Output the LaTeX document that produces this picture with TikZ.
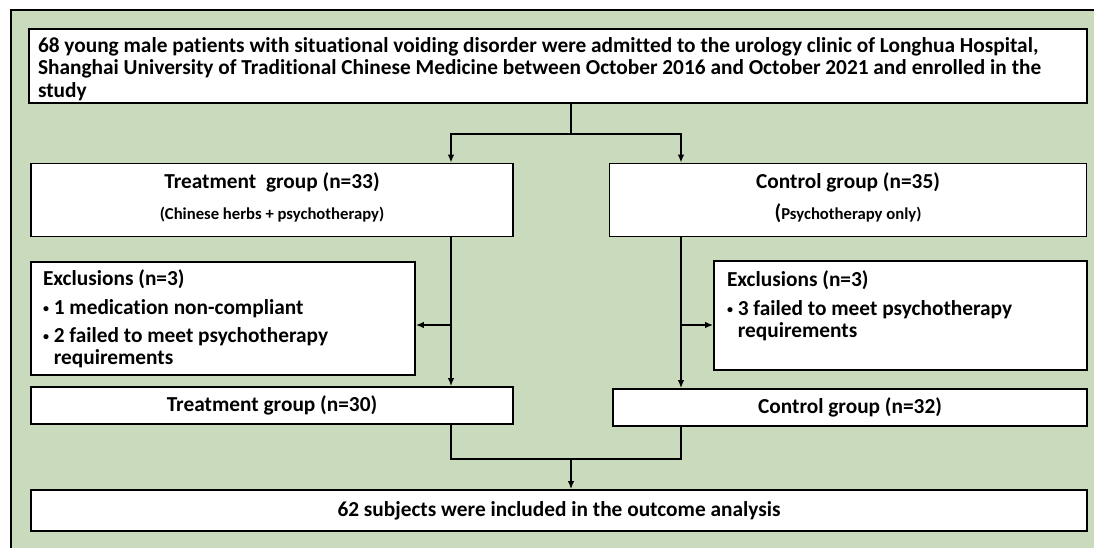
\documentclass[tikz,border=0pt]{standalone}
\usepackage{fontspec}
\setmainfont{Carlito}[Ligatures=CommonOff]
\usetikzlibrary{arrows.meta}
\definecolor{sage}{RGB}{201,218,189}
\tikzset{every picture/.style={line width=0.75pt}}
\tikzset{
  box/.style={draw=black, fill=white, line width=1.4pt, inner sep=0pt, font=\bfseries\fontsize{16}{16.5}\selectfont},
  flow/.style={line width=1.1pt, -{Latex[length=6pt,width=5pt]}},
  joint/.style={line width=1.1pt}
}
\newcommand{\bul}{\raisebox{1.5pt}{\fontsize{9}{9}\selectfont\textbullet}\ }

\begin{document}
\begin{tikzpicture}[x=0.75pt,y=0.75pt,yscale=-1,xscale=1]
	\useasboundingbox (0,0) rectangle (1094,547);

	%Shape: Frame
	\fill[sage] (11,10) rectangle (1100,553);
	\draw[line width=1.4pt] (11,553) -- (11,10) -- (1100,10);

	% Enrolment
	\node[box, minimum width=1058*0.75pt, minimum height=74*0.75pt, text width=1040*0.75pt, align=flush left] (enrol) at (558,66) {\rule{0pt}{16pt}68 young male patients with situational voiding disorder were admitted to the urology clinic of Longhua Hospital,\\[0.5pt] Shanghai University of Traditional Chinese Medicine between October 2016 and October 2021 and enrolled in the\\[0.5pt] study};

	% Groups
	\node[box, minimum width=482*0.75pt, minimum height=73*0.75pt, align=center] (treat) at (272,200) {Treatment\ \ group (n=33)\\[6.5pt]{\fontsize{12.5}{12}\selectfont(Chinese herbs + psychotherapy)}\\[-11pt]\mbox{}};
	\node[box, minimum width=477*0.75pt, minimum height=73*0.75pt, align=center] (ctrl) at (848,200) {Control group (n=35)\\[6.5pt]{\fontsize{12.5}{12}\selectfont{\fontsize{16}{12}\selectfont(}Psychotherapy only)}\\[-11pt]\mbox{}};

	% Exclusions
	\node[box, minimum width=384*0.75pt, minimum height=113*0.75pt, text width=360*0.75pt, align=flush left] (exclT) at (223,318.5) {Exclusions (n=3)\\[5pt]
	\bul 1 medication non-compliant\\[4.5pt]
	\bul 2 failed to meet psychotherapy\\ \phantom{\bul}requirements};
	\node[box, minimum width=373*0.75pt, minimum height=109*0.75pt, text width=347*0.75pt, align=flush left] (exclC) at (900.5,315.5) {Exclusions (n=3)\\[5pt]
	\bul 3 failed to meet psychotherapy\\ \phantom{\bul}requirements\\[-4pt] \strut};

	% Analysed groups
	\node[box, minimum width=482*0.75pt, minimum height=37*0.75pt] (treatF) at (272,405.5) {Treatment group (n=30)};
	\node[box, minimum width=474*0.75pt, minimum height=37*0.75pt] (ctrlF) at (850,407.5) {Control group (n=32)};

	% Outcome
	\node[box, minimum width=1056*0.75pt, minimum height=41*0.75pt] (final) at (559,510.5) {62 subjects were included in the outcome analysis};

	% Lines
	\coordinate (split) at (571,134);
	\coordinate (tx) at (451,0);
	\coordinate (cx) at (681,0);
	\coordinate (ex) at (0,325);
	\coordinate (merge) at (571,459);

	\draw[joint] (enrol.south -| split) -- (split);
	\draw[flow] (split) -| (tx |- treat.north);
	\draw[flow] (split) -| (cx |- ctrl.north);
	\draw[flow] (tx |- treat.south) -- (tx |- treatF.north);
	\draw[flow] (tx |- ex) -- (exclT.east |- ex);
	\draw[flow] (cx |- ctrl.south) -- (cx |- ctrlF.north);
	\draw[flow] (cx |- ex) -- (exclC.west |- ex);
	\draw[joint] (tx |- treatF.south) |- (merge) -| (cx |- ctrlF.south);
	\draw[flow] (merge) -- (merge |- final.north);

\end{tikzpicture}
\end{document}
